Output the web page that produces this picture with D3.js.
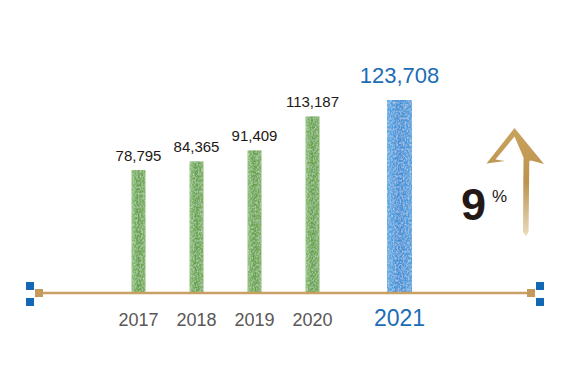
<!DOCTYPE html>
<html><head><meta charset="utf-8">
<script src="https://cdn.jsdelivr.net/npm/d3@7"></script>
<style>
html,body{margin:0;padding:0;background:#fff;}
svg{display:block;}
text{font-family:"Liberation Sans",Arial,Helvetica,sans-serif;}
</style></head>
<body>
<svg id="chart" width="577" height="385"></svg>
<script>
const years = ["2017","2018","2019","2020","2021"];
const values = [78795, 84365, 91409, 113187, 123708];
const highlightYear = "2021";
const growthLabel = "9";
const growthUnit = "%";

const svg = d3.select("#chart");
const baseY = 293;

// x: uniform step for regular years, highlighted year gets an extra half step
const idx = years.map((y,i)=> i + (y===highlightYear ? 0.5 : 0));
const x = d3.scaleLinear().domain([0,1]).range([138.5, 196.5]);
const y = d3.scaleLinear().domain([0,125000]).range([baseY, 98]);

const defs = svg.append("defs");
function grad(id, stops){
  const g = defs.append("linearGradient").attr("id",id).attr("x1","0").attr("x2","1").attr("y1","0").attr("y2","0");
  stops.forEach(s=>g.append("stop").attr("offset",s[0]).attr("stop-color",s[1]));
}
grad("gGreen",[[0,"#8cc075"],[0.45,"#62a049"],[1,"#7ab160"]]);
grad("gBlue",[[0,"#5eabe4"],[0.5,"#3f8fd6"],[1,"#56a2de"]]);
const ga = defs.append("linearGradient").attr("id","gGold").attr("x1","0").attr("x2","0").attr("y1","0").attr("y2","1");
ga.append("stop").attr("offset",0).attr("stop-color","#c9a25e");
ga.append("stop").attr("offset",0.5).attr("stop-color","#bb934f");
ga.append("stop").attr("offset",1).attr("stop-color","#eadcbf");

// subtle watercolor texture filter
const f = defs.append("filter").attr("id","tex").attr("x","0").attr("y","0").attr("width","1").attr("height","1");
f.append("feTurbulence").attr("type","fractalNoise").attr("baseFrequency","0.6 0.45").attr("numOctaves","3").attr("seed","7").attr("result","n");
f.append("feColorMatrix").attr("in","n").attr("type","matrix")
 .attr("values","0 0 0 0 1  0 0 0 0 1  0 0 0 0 1  0 0 0 -0.8 0.5").attr("result","w");
f.append("feComposite").attr("in","w").attr("in2","SourceGraphic").attr("operator","in").attr("result","wc");
const fm = f.append("feMerge");
fm.append("feMergeNode").attr("in","SourceGraphic");
fm.append("feMergeNode").attr("in","wc");

const data = years.map((yr,i)=>({year:yr, value:values[i], pos:idx[i], hi: yr===highlightYear}));

// bars
svg.append("g").selectAll("rect").data(data).join("rect")
  .attr("x", d=> x(d.pos) - (d.hi?12.5:7))
  .attr("width", d=> d.hi?25:14)
  .attr("y", d=> y(d.value))
  .attr("height", d=> baseY - 1 - y(d.value))
  .attr("fill", d=> d.hi ? "url(#gBlue)" : "url(#gGreen)")
  .attr("filter","url(#tex)");

// axis line with end markers
const lineX0 = 39, lineX1 = 531;
svg.append("line").attr("x1",lineX0).attr("x2",lineX1).attr("y1",baseY).attr("y2",baseY)
  .attr("stroke","#c9a063").attr("stroke-width",2.5);
[lineX0, lineX1].forEach((cx,k)=>{
  svg.append("rect").attr("x",cx-4).attr("y",baseY-4).attr("width",8).attr("height",8).attr("fill","#c59a5c");
  const bx = k===0 ? cx-13 : cx+5;
  [baseY-11, baseY+5].forEach(by=>{
    svg.append("rect").attr("x",bx).attr("y",by).attr("width",8).attr("height",8).attr("fill","#1467b3");
  });
});

// value labels
svg.append("g").selectAll("text").data(data).join("text")
  .attr("x", d=> x(d.pos))
  .attr("y", d=> y(d.value) - (d.hi?17:9))
  .attr("text-anchor","middle")
  .attr("font-size", d=> d.hi?22:15)
  .attr("fill", d=> d.hi?"#1b6db5":"#231815")
  .text(d=> d3.format(",")(d.value));

// year labels
svg.append("g").selectAll("text").data(data).join("text")
  .attr("x", d=> x(d.pos))
  .attr("y", 326)
  .attr("text-anchor","middle")
  .attr("font-size", d=> d.hi?23:18)
  .attr("fill", d=> d.hi?"#1b6db5":"#595757")
  .text(d=> d.year);

// growth arrow (outlined head + tapering shaft)
const arrowPts = [[514.5,128],[544,164],[531,160.5],[529.3,161],[528.6,232],[526,236],[523,232],[523.5,157.5],
                  [514.5,136.5],[495.5,159.5],[505,161],[486.5,163.5]];
svg.append("path").attr("d", d3.line()(arrowPts) + "Z").attr("fill","url(#gGold)");

svg.append("text").attr("x",461).attr("y",220).attr("font-family","Roboto").attr("font-size",45).attr("font-weight",900)
  .attr("fill","#231815").text(growthLabel);
svg.append("text").attr("x",492).attr("y",202).attr("font-size",17)
  .attr("fill","#231815").text(growthUnit);
</script>
</body></html>
